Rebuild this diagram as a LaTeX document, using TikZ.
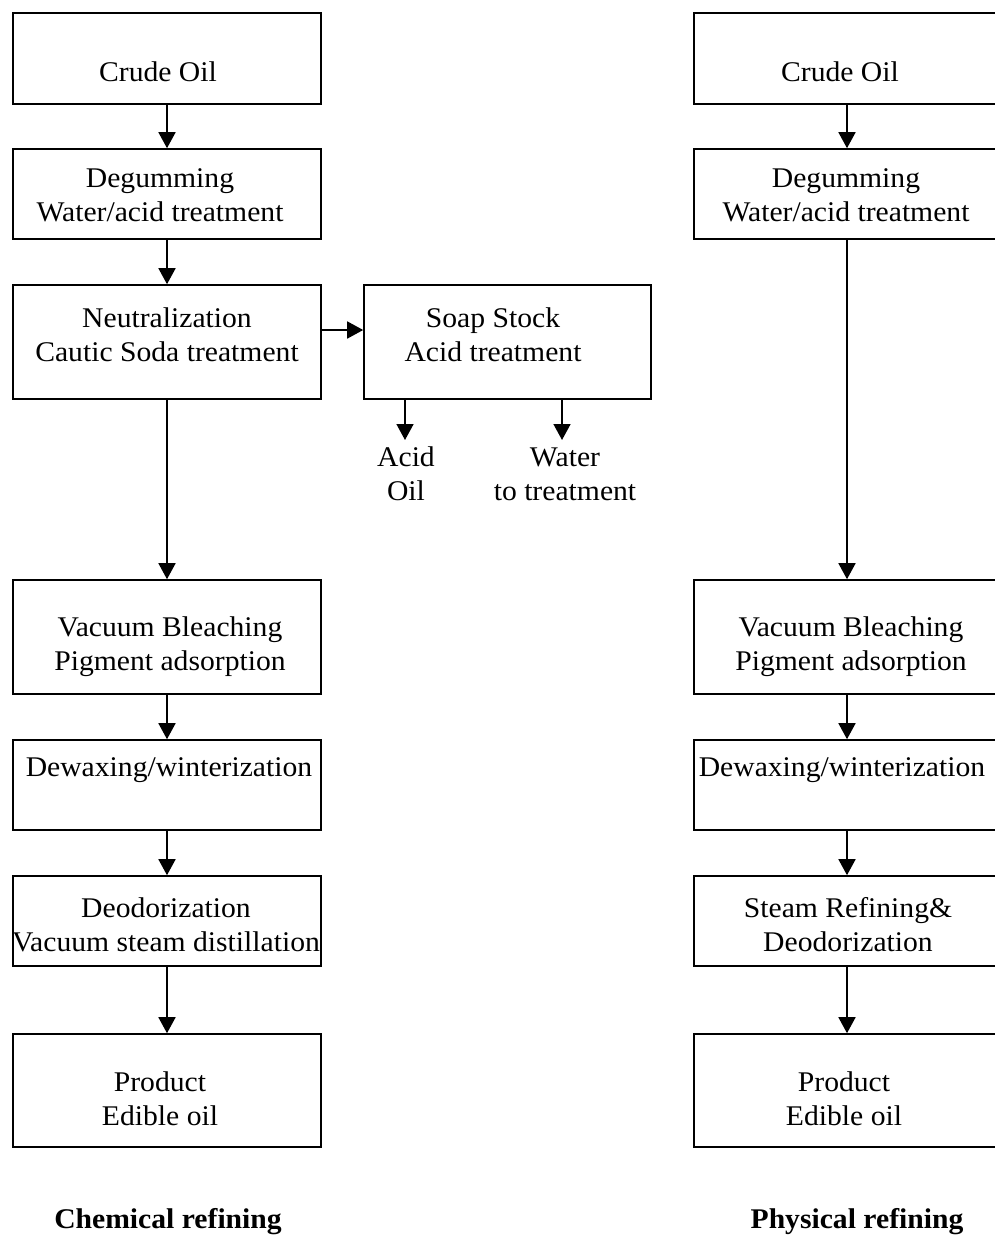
\documentclass[tikz,border=0pt]{standalone}
\usepackage{fontspec}
\setmainfont[FakeStretch=1.04]{Liberation Serif}
\usetikzlibrary{arrows.meta}
\begin{document}
\begin{tikzpicture}[x=1pt,y=-1pt,
  box/.style={draw, line width=1.6pt, minimum width=308pt, inner sep=0pt},
  lbl/.style={align=center, inner sep=0pt, font=\fontsize{28.5}{34}\selectfont},
  ttl/.style={inner sep=0pt, font=\fontsize{28.5}{34}\selectfont\bfseries},
  arr/.style={line width=1.6pt, -{Triangle[length=16pt,width=17pt]}}]
\useasboundingbox (0,0) rectangle (995,1239);
\clip (0,0) rectangle (995,1239);
% ---------- left column: chemical refining ----------
\node[box, minimum height=91pt]  (lc) at (167,58.5) {};
\node[box, minimum height=90pt]  (ld) at (167,194) {};
\node[box, minimum height=114pt] (ln) at (167,342) {};
\node[box, minimum height=114pt] (lv) at (167,637) {};
\node[box, minimum height=90pt]  (lw) at (167,785) {};
\node[box, minimum height=90pt]  (lo) at (167,921) {};
\node[box, minimum height=113pt] (lp) at (167,1090.5) {};
\node[box, minimum width=287pt, minimum height=114pt] (ss) at (507.5,342) {};

\node[lbl] (tlc) at (158,72) {Crude Oil};
\node[lbl] (tld) at (160,195) {Degumming\\Water/acid treatment};
\node[lbl] (tln) at (167,334.5) {Neutralization\\Cautic Soda treatment};
\node[lbl] (tlv) at (170,647) {Vacuum Bleaching\\Pigment adsorption};
\node[lbl] (tlw) at (169,770) {Dewaxing/winterization};
\node[lbl] (tlo) at (166,925) {Deodorization\\Vacuum steam distillation};
\node[lbl] (tlp) at (160,1099) {Product\\Edible oil};
\node[lbl] (tss) at (493,334.5) {Soap Stock\\Acid treatment};
\node[lbl] (tao) at (406,474) {Acid\\Oil};
\node[lbl] (twt) at (565,474) {Water\\to treatment};
\node[ttl] (tch) at (168,1222) {Chemical refining};

\coordinate (ea) at (405,440);
\coordinate (ew) at (562,440);

\draw[arr] (lc) -- (ld);
\draw[arr] (ld) -- (ln);
\draw[arr] (ln) -- (lv);
\draw[arr] (lv) -- (lw);
\draw[arr] (lw) -- (lo);
\draw[arr] (lo) -- (lp);
\draw[arr] ([yshift=12pt]ln.east) -- ([yshift=12pt]ss.west);
\draw[arr] (ss.south -| ea) -- (ea);
\draw[arr] (ss.south -| ew) -- (ew);

% ---------- right column: physical refining ----------
\node[box, minimum height=91pt]  (rc) at (848,58.5) {};
\node[box, minimum height=90pt]  (rd) at (848,194) {};
\node[box, minimum height=114pt] (rv) at (848,637) {};
\node[box, minimum height=90pt]  (rw) at (848,785) {};
\node[box, minimum height=90pt]  (rs) at (848,921) {};
\node[box, minimum height=113pt] (rp) at (848,1090.5) {};

\node[lbl] (trc) at (840,72) {Crude Oil};
\node[lbl] (trd) at (846,195) {Degumming\\Water/acid treatment};
\node[lbl] (trv) at (851,647) {Vacuum Bleaching\\Pigment adsorption};
\node[lbl] (trw) at (842,770) {Dewaxing/winterization};
\node[lbl] (trs) at (848,925) {Steam Refining\&\\Deodorization};
\node[lbl] (trp) at (844,1099) {Product\\Edible oil};
\node[ttl] (tph) at (857,1222) {Physical refining};

\draw[arr] (rc.south -| 847,0) -- (rd.north -| 847,0);
\draw[arr] (rd.south -| 847,0) -- (rv.north -| 847,0);
\draw[arr] (rv.south -| 847,0) -- (rw.north -| 847,0);
\draw[arr] (rw.south -| 847,0) -- (rs.north -| 847,0);
\draw[arr] (rs.south -| 847,0) -- (rp.north -| 847,0);
\end{tikzpicture}
\end{document}
